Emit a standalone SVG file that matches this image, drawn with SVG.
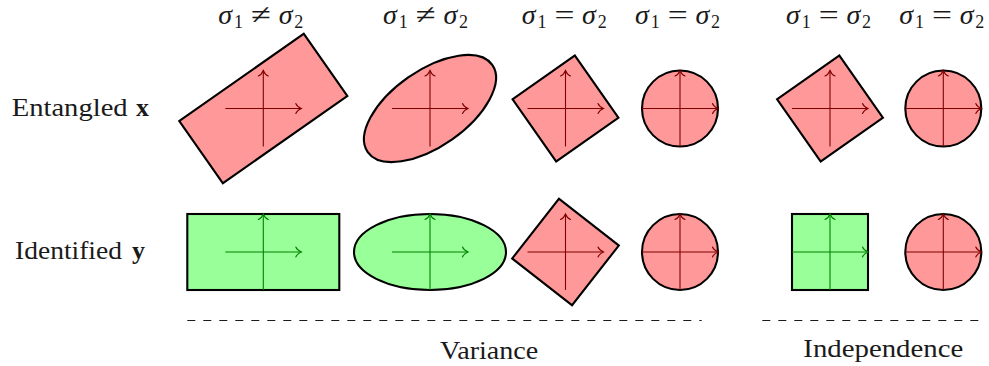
<svg xmlns="http://www.w3.org/2000/svg" width="989" height="366" viewBox="0 0 989 366">
<style>
.lbl{font-family:"Liberation Serif","Times New Roman",serif;font-size:26px;fill:#1a1a1a}
.sig{font-family:"Liberation Serif","Times New Roman",serif;font-size:28px;font-style:italic;fill:#1a1a1a}
.sub{font-family:"Liberation Serif","Times New Roman",serif;font-size:18px;fill:#1a1a1a}
.rel{font-family:"Liberation Serif","DejaVu Serif",serif;font-size:28px;fill:#1a1a1a}
.bf{font-weight:bold}
.red{fill:#ff9999;stroke:#000;stroke-width:2.1}
.grn{fill:#99ff99;stroke:#000;stroke-width:2.1}
.axr{stroke:#800000;stroke-width:1.1;fill:none;marker-end:url(#arrR)}
.axg{stroke:#008000;stroke-width:1.1;fill:none;marker-end:url(#arrG)}
.sep{stroke:#1a1a1a;stroke-width:1.2;stroke-dasharray:8 8;fill:none}
</style>
<defs>
<marker id="arrR" viewBox="-8 -7 10 14" refX="0" refY="0" markerWidth="10" markerHeight="14" markerUnits="userSpaceOnUse" orient="auto" overflow="visible">
<path d="M-5.5,-5 C-4.5,-2.5 -1.5,-0.6 0,0 C-1.5,0.6 -4.5,2.5 -5.5,5" fill="none" stroke="#800000" stroke-width="1.1" stroke-linecap="round"/>
</marker>
<marker id="arrG" viewBox="-8 -7 10 14" refX="0" refY="0" markerWidth="10" markerHeight="14" markerUnits="userSpaceOnUse" orient="auto" overflow="visible">
<path d="M-5.5,-5 C-4.5,-2.5 -1.5,-0.6 0,0 C-1.5,0.6 -4.5,2.5 -5.5,5" fill="none" stroke="#008000" stroke-width="1.1" stroke-linecap="round"/>
</marker>
</defs>

<g id="row-labels">
<text class="lbl" x="11.7" y="116" textLength="116" lengthAdjust="spacingAndGlyphs">Entangled</text>
<text class="lbl bf" x="136" y="116">x</text>
<text class="lbl" x="15" y="259" textLength="107" lengthAdjust="spacingAndGlyphs">Identified</text>
<text class="lbl bf" x="132" y="259">y</text>
</g>

<g id="col-labels">
<g id="lbl1"><text class="sig" x="218.3" y="24">σ</text><text class="sub" x="234" y="28">1</text><text class="rel" x="251" y="24" textLength="20" lengthAdjust="spacingAndGlyphs">≠</text><text class="sig" x="278.7" y="24">σ</text><text class="sub" x="294.3" y="28">2</text></g>
<g id="lbl2"><text class="sig" x="383" y="24">σ</text><text class="sub" x="398.7" y="28">1</text><text class="rel" x="415.7" y="24" textLength="20" lengthAdjust="spacingAndGlyphs">≠</text><text class="sig" x="443.4" y="24">σ</text><text class="sub" x="459" y="28">2</text></g>
<g id="lbl3"><text class="sig" x="521.7" y="24">σ</text><text class="sub" x="537.4" y="28">1</text><text class="rel" x="554.4" y="24" textLength="20" lengthAdjust="spacingAndGlyphs">=</text><text class="sig" x="582.1" y="24">σ</text><text class="sub" x="597.7" y="28">2</text></g>
<g id="lbl4"><text class="sig" x="635" y="24">σ</text><text class="sub" x="650.7" y="28">1</text><text class="rel" x="667.7" y="24" textLength="20" lengthAdjust="spacingAndGlyphs">=</text><text class="sig" x="695.4" y="24">σ</text><text class="sub" x="711" y="28">2</text></g>
<g id="lbl5"><text class="sig" x="786" y="24">σ</text><text class="sub" x="801.7" y="28">1</text><text class="rel" x="818.7" y="24" textLength="20" lengthAdjust="spacingAndGlyphs">=</text><text class="sig" x="846.4" y="24">σ</text><text class="sub" x="862" y="28">2</text></g>
<g id="lbl6"><text class="sig" x="899.3" y="24">σ</text><text class="sub" x="915" y="28">1</text><text class="rel" x="932" y="24" textLength="20" lengthAdjust="spacingAndGlyphs">=</text><text class="sig" x="959.7" y="24">σ</text><text class="sub" x="975.3" y="28">2</text></g>
</g>

<g id="x-rect">
<rect class="red" x="-76" y="-38" width="152" height="76" transform="translate(263.3,108.5) rotate(-35)"/>
<path class="axr" d="M225.3,108.5 H301.3"/><path class="axr" d="M263.3,146.5 V70.5"/>
</g>
<g id="x-ellipse">
<ellipse class="red" cx="0" cy="0" rx="76" ry="38" transform="translate(430,108.5) rotate(-35)"/>
<path class="axr" d="M392,108.5 H468"/><path class="axr" d="M430,146.5 V70.5"/>
</g>
<g id="x-square">
<rect class="red" x="-38" y="-38" width="76" height="76" transform="translate(565.5,108.5) rotate(-35)"/>
<path class="axr" d="M527.5,108.5 H603.5"/><path class="axr" d="M565.5,146.5 V70.5"/>
</g>
<g id="x-circle">
<circle class="red" cx="680" cy="108.5" r="38"/>
<path class="axr" d="M642,108.5 H718"/><path class="axr" d="M680,146.5 V70.5"/>
</g>
<g id="x-square-ind">
<rect class="red" x="-38" y="-38" width="76" height="76" transform="translate(830,108.5) rotate(-35)"/>
<path class="axr" d="M792,108.5 H868"/><path class="axr" d="M830,146.5 V70.5"/>
</g>
<g id="x-circle-ind">
<circle class="red" cx="943.3" cy="108.5" r="38"/>
<path class="axr" d="M905.3,108.5 H981.3"/><path class="axr" d="M943.3,146.5 V70.5"/>
</g>

<g id="y-rect">
<rect class="grn" x="187.3" y="214" width="152" height="76"/>
<path class="axg" d="M225.3,252 H301.3"/><path class="axg" d="M263.3,290 V214"/>
</g>
<g id="y-ellipse">
<ellipse class="grn" cx="430" cy="252" rx="76" ry="38"/>
<path class="axg" d="M392,252 H468"/><path class="axg" d="M430,290 V214"/>
</g>
<g id="y-square">
<rect class="red" x="-38" y="-38" width="76" height="76" transform="translate(565.5,252) rotate(38)"/>
<path class="axr" d="M527.5,252 H603.5"/><path class="axr" d="M565.5,290 V214"/>
</g>
<g id="y-circle">
<circle class="red" cx="680" cy="252" r="38"/>
<path class="axr" d="M642,252 H718"/><path class="axr" d="M680,290 V214"/>
</g>
<g id="y-square-ind">
<rect class="grn" x="792" y="214" width="76" height="76"/>
<path class="axg" d="M792,252 H868"/><path class="axg" d="M830,290 V214"/>
</g>
<g id="y-circle-ind">
<circle class="red" cx="943.3" cy="252" r="38"/>
<path class="axr" d="M905.3,252 H981.3"/><path class="axr" d="M943.3,290 V214"/>
</g>

<g id="connectors">
<path class="sep" d="M187.3,320.5 H701.7"/>
<path class="sep" d="M762.3,320.5 H978.3"/>
</g>

<g id="group-labels">
<text class="lbl" x="440" y="359.3" textLength="98.3" lengthAdjust="spacingAndGlyphs">Variance</text>
<text class="lbl" x="803.3" y="356.7" textLength="160" lengthAdjust="spacingAndGlyphs">Independence</text>
</g>
</svg>
